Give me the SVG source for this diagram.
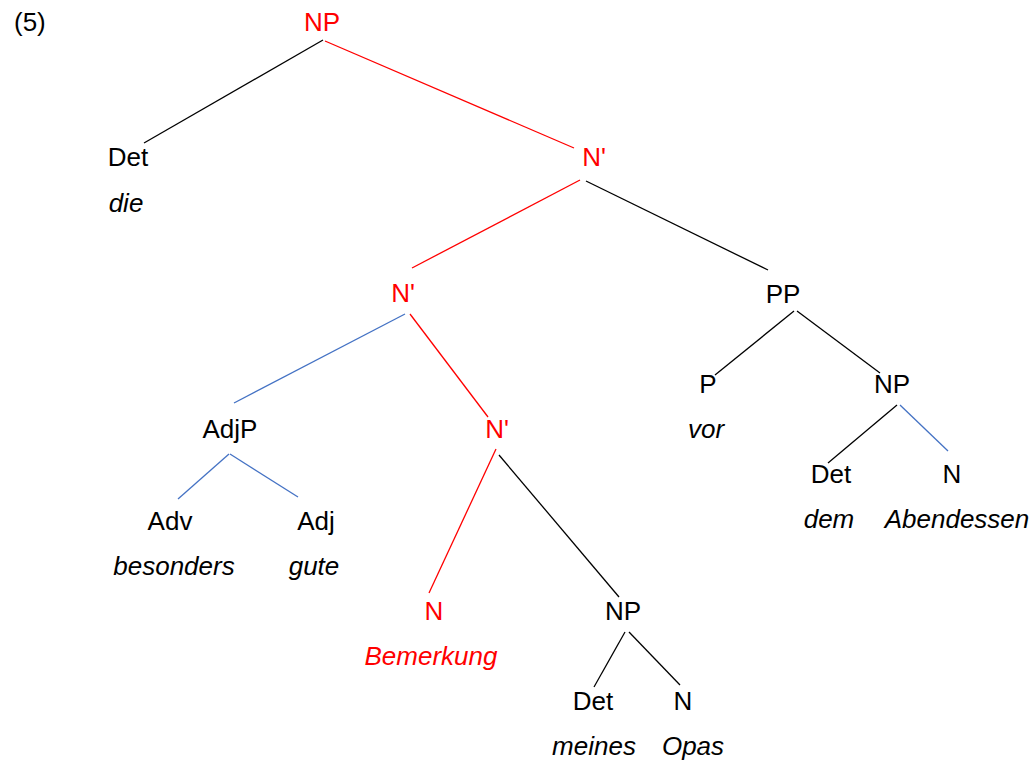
<svg xmlns="http://www.w3.org/2000/svg" width="1030" height="761" viewBox="0 0 1030 761">
<style>
text{font-family:"Liberation Sans",Arial,sans-serif;font-size:26px;fill:#000;text-anchor:middle}
.w{font-style:italic}
.r{fill:#ff0000}
line{stroke-width:1.3;stroke:#000}
line.r{stroke:#ff0000}
line.b{stroke:#4472c4}
</style>
<rect width="1030" height="761" fill="#fff"/>
<text x="14" y="31" style="text-anchor:start">(5)</text>
<g id="connectors">
<line class="k" x1="323" y1="40" x2="144" y2="143"/>
<line class="r" x1="325" y1="41" x2="574" y2="148"/>
<line class="r" x1="580" y1="180" x2="412" y2="268"/>
<line x1="586" y1="181" x2="768" y2="270"/>
<line class="b" x1="405" y1="314" x2="234" y2="403"/>
<line class="r" x1="410" y1="314" x2="488" y2="417"/>
<line class="b" x1="229" y1="454" x2="178" y2="499"/>
<line class="b" x1="230" y1="454" x2="298" y2="497"/>
<line class="r" x1="496" y1="449" x2="429" y2="593"/>
<line x1="499" y1="455" x2="619" y2="597"/>
<line x1="625" y1="632" x2="594" y2="687"/>
<line x1="629" y1="632" x2="680" y2="685"/>
<line x1="794" y1="311" x2="715" y2="375"/>
<line x1="797" y1="311" x2="880" y2="373"/>
<line x1="897" y1="405" x2="828" y2="463"/>
<line class="b" x1="900" y1="405" x2="948" y2="451"/>
</g>
<g id="np-root"><text class="r" x="322" y="31">NP</text></g>
<g id="det1"><text x="128" y="166">Det</text><text class="w" x="126" y="212">die</text></g>
<g id="nbar1"><text class="r" x="594" y="166">N'</text></g>
<g id="nbar2"><text class="r" x="403" y="302">N'</text></g>
<g id="pp"><text x="783" y="303">PP</text></g>
<g id="adjp"><text x="230" y="438">AdjP</text></g>
<g id="nbar3"><text class="r" x="497" y="438">N'</text></g>
<g id="adv"><text x="170" y="530">Adv</text><text class="w" x="174" y="575">besonders</text></g>
<g id="adj"><text x="316" y="530">Adj</text><text class="w" x="314" y="575">gute</text></g>
<g id="n1"><text class="r" x="434" y="620">N</text><text class="w r" x="431" y="665">Bemerkung</text></g>
<g id="np2"><text x="623" y="620">NP</text></g>
<g id="det2"><text x="593" y="710">Det</text><text class="w" x="594" y="755">meines</text></g>
<g id="n2"><text x="683" y="710">N</text><text class="w" x="693" y="755">Opas</text></g>
<g id="p"><text x="708" y="393">P</text><text class="w" x="706" y="438">vor</text></g>
<g id="np3"><text x="892" y="393">NP</text></g>
<g id="det3"><text x="831" y="483">Det</text><text class="w" x="829" y="528">dem</text></g>
<g id="n3"><text x="952" y="483">N</text><text class="w" x="957" y="528">Abendessen</text></g>
</svg>
